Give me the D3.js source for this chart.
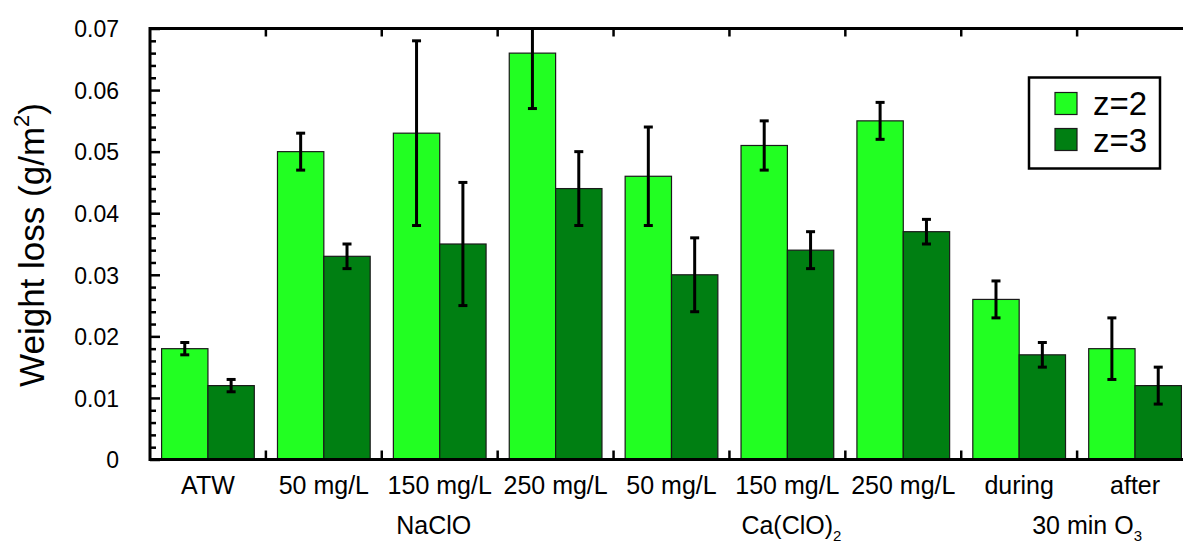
<!DOCTYPE html>
<html>
<head>
<meta charset="utf-8">
<script src="https://cdn.jsdelivr.net/npm/d3@7"></script>
<style>
  body { margin: 0; background: #fff; }
  text { font-family: "Liberation Sans", Arial, sans-serif; fill: #000; }
</style>
</head>
<body>
<div id="chart"></div>
<script>
// data
const categories = ['ATW', 'NaClO 50', 'NaClO 150', 'NaClO 250', 'CaClO 50', 'CaClO 150', 'CaClO 250', 'O3 during', 'O3 after'];
const catLabels = ['ATW', '50 mg/L', '150 mg/L', '250 mg/L', '50 mg/L', '150 mg/L', '250 mg/L', 'during', 'after'];
const z2 = [0.018, 0.050, 0.053, 0.066, 0.046, 0.051, 0.055, 0.026, 0.018];
const z2err = [0.001, 0.003, 0.015, 0.009, 0.008, 0.004, 0.003, 0.003, 0.005];
const z3 = [0.012, 0.033, 0.035, 0.044, 0.030, 0.034, 0.037, 0.017, 0.012];
const z3err = [0.001, 0.002, 0.010, 0.006, 0.006, 0.003, 0.002, 0.002, 0.003];
const series = ['z=2', 'z=3'];
const colors = ['#22ff22', '#007f12'];
const yMajor = [0, 0.01, 0.02, 0.03, 0.04, 0.05, 0.06, 0.07];

// set the dimensions and margins of the graph
const W = 1183, H = 545;
const margin = {top: 28.5, right: -10, bottom: 85.5, left: 150},
    width = W - margin.left - margin.right,
    height = H - margin.top - margin.bottom;

const svg = d3.select("#chart")
    .append("svg")
    .attr("width", W)
    .attr("height", H)
    .append("g")
    .attr("transform", `translate(${margin.left}, ${margin.top})`);

const x = d3.scaleBand()
    .domain(categories)
    .range([0, width])
    .paddingInner(0.2)
    .paddingOuter(0.1);

const xSub = d3.scaleBand()
    .domain(series)
    .range([0, x.bandwidth()]);

const y = d3.scaleLinear()
    .domain([0, 0.07])
    .range([height, 0]);

// bars
const rows = categories.map((c, i) => ({
    key: c,
    vals: [
        {s: series[0], v: z2[i], e: z2err[i], c: colors[0]},
        {s: series[1], v: z3[i], e: z3err[i], c: colors[1]}
    ]
}));

const groups = svg.selectAll(".grp")
    .data(rows)
    .join("g")
    .attr("class", "grp")
    .attr("transform", d => `translate(${x(d.key)}, 0)`);

groups.selectAll("rect")
    .data(d => d.vals)
    .join("rect")
    .attr("x", d => xSub(d.s))
    .attr("y", d => y(d.v))
    .attr("width", xSub.bandwidth())
    .attr("height", d => height - y(d.v))
    .attr("fill", d => d.c)
    .attr("stroke", "#1a1a1a")
    .attr("stroke-width", 1.2);

// error bars (cut at the top of the frame, no cap there)
groups.selectAll(".err")
    .data(d => d.vals)
    .join("g")
    .attr("class", "err")
    .attr("stroke", "#000")
    .attr("stroke-width", 3)
    .each(function(d) {
        const g = d3.select(this);
        const cx = xSub(d.s) + xSub.bandwidth() / 2;
        const ytRaw = y(d.v + d.e);
        const yt = Math.max(ytRaw, 0), yb = y(d.v - d.e);
        g.append("line").attr("x1", cx).attr("x2", cx).attr("y1", yt).attr("y2", yb);
        if (ytRaw >= 0) {
            g.append("line").attr("x1", cx - 4.5).attr("x2", cx + 4.5).attr("y1", yt).attr("y2", yt);
        }
        g.append("line").attr("x1", cx - 4.5).attr("x2", cx + 4.5).attr("y1", yb).attr("y2", yb);
    });

// y axis: major and minor ticks, left and right
const yMinor = d3.range(0, 0.0701, 0.002).filter(v => !yMajor.some(m => Math.abs(m - v) < 1e-9));

const yAxis = svg.append("g")
    .call(d3.axisLeft(y).tickValues(yMajor).tickSize(-10).tickPadding(31)
        .tickFormat(d => d === 0 ? "0" : d3.format(".2f")(d)));
yAxis.selectAll("text").attr("font-size", 23).attr("dy", "0.36em");
svg.append("g")
    .call(d3.axisLeft(y).tickValues(yMinor).tickSize(-6).tickFormat(""));
svg.append("g")
    .attr("transform", `translate(${width}, 0)`)
    .call(d3.axisRight(y).tickValues(yMajor).tickSize(-10).tickFormat(""));
svg.append("g")
    .attr("transform", `translate(${width}, 0)`)
    .call(d3.axisRight(y).tickValues(yMinor).tickSize(-6).tickFormat(""));
svg.selectAll(".domain").remove();
svg.selectAll(".tick line").attr("stroke", "#000").attr("stroke-width", 2.5);

// category boundary ticks top and bottom
const bounds = categories.slice(1).map(c => x(c) - (x.step() - x.bandwidth()) / 2);
svg.selectAll(".btick")
    .data(bounds)
    .join("line")
    .attr("x1", d => d).attr("x2", d => d)
    .attr("y1", height).attr("y2", height - 9)
    .attr("stroke", "#000").attr("stroke-width", 2.5);
svg.selectAll(".ttick")
    .data(bounds)
    .join("line")
    .attr("x1", d => d).attr("x2", d => d)
    .attr("y1", 0).attr("y2", 8)
    .attr("stroke", "#000").attr("stroke-width", 2.5);

// frame
svg.append("rect")
    .attr("width", width).attr("height", height)
    .attr("fill", "none").attr("stroke", "#000").attr("stroke-width", 3);

// x labels
const xAxis = svg.append("g")
    .attr("transform", `translate(0, ${height})`)
    .call(d3.axisBottom(x).tickSize(0).tickPadding(0).tickFormat((d, i) => catLabels[i]));
xAxis.select(".domain").remove();
xAxis.selectAll("text").attr("font-size", 25).attr("y", 34).attr("dy", 0);

// group labels
const grpRow = height + 74;
svg.append("text")
    .attr("x", x('NaClO 150') + x.bandwidth() / 2 - 6)
    .attr("y", grpRow)
    .attr("text-anchor", "middle")
    .attr("font-size", 25)
    .text("NaClO");
const caLab = svg.append("text")
    .attr("x", x('CaClO 150') + x.bandwidth() / 2 + 4)
    .attr("y", grpRow)
    .attr("text-anchor", "middle")
    .attr("font-size", 25);
caLab.append("tspan").text("Ca(ClO)");
caLab.append("tspan").attr("font-size", 15).attr("dy", 7).text("2");
const o3Lab = svg.append("text")
    .attr("x", (x('O3 during') + x('O3 after') + x.bandwidth()) / 2 + 10)
    .attr("y", grpRow)
    .attr("text-anchor", "middle")
    .attr("font-size", 25);
o3Lab.append("tspan").text("30 min O");
o3Lab.append("tspan").attr("font-size", 15).attr("dy", 7).text("3");

// y title
const yTitle = svg.append("text")
    .attr("transform", `translate(${-106}, ${height / 2 + 1}) rotate(-90)`)
    .attr("text-anchor", "middle")
    .attr("font-size", 35);
yTitle.append("tspan").text("Weight loss (g/m");
yTitle.append("tspan").attr("font-size", 22).attr("dy", -15).text("2");
yTitle.append("tspan").attr("dy", 15).text(")");

// legend
const lg = svg.append("g").attr("transform", `translate(${879}, ${49})`);
lg.append("rect")
    .attr("width", 131).attr("height", 91)
    .attr("fill", "#fff").attr("stroke", "#000").attr("stroke-width", 2.5);
lg.selectAll(".sw")
    .data(series)
    .join("rect")
    .attr("x", 26).attr("y", (d, i) => 15 + i * 36)
    .attr("width", 22).attr("height", 22)
    .attr("fill", (d, i) => colors[i])
    .attr("stroke", "#1a1a1a").attr("stroke-width", 1.2);
lg.selectAll(".lt")
    .data(series)
    .join("text")
    .attr("x", 64).attr("y", (d, i) => 37 + i * 37)
    .attr("font-size", 33)
    .text(d => d);
</script>
</body>
</html>
